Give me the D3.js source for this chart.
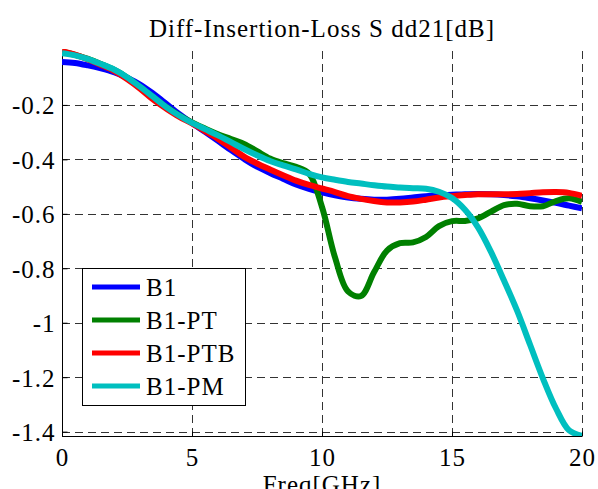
<!DOCTYPE html>
<html>
<head>
<meta charset="utf-8">
<script src="https://cdn.jsdelivr.net/npm/d3@7"></script>
<style>
  html, body { margin: 0; padding: 0; background: #fff; }
  svg { display: block; }
</style>
</head>
<body>
<svg id="chart" width="598" height="489" font-family="Liberation Serif"></svg>
<script>
const title = "Diff-Insertion-Loss S dd21[dB]";
const xLabel = "Freq[GHz]";
const seriesNames = ["B1", "B1-PT", "B1-PTB", "B1-PM"];
const seriesColors = ["#0000ff", "#008000", "#ff0000", "#00bfbf"];
const xTicks = [0, 5, 10, 15, 20];
const xTickLabels = ["0", "5", "10", "15", "20"];
const yTicks = [-0.2, -0.4, -0.6, -0.8, -1.0, -1.2, -1.4];
const yTickLabels = ["-0.2", "-0.4", "-0.6", "-0.8", "-1", "-1.2", "-1.4"];

const freq = [0,0.5,1,1.5,2,2.5,3,3.5,4,4.5,5,5.5,6,6.5,7,7.5,8,8.5,9,9.5,10,
  10.5,11,11.5,12,12.5,13,13.5,14,14.5,15,15.5,16,16.5,17,17.5,18,18.5,19,19.5,20];

const b1 = [-0.042,-0.046,-0.055,-0.066,-0.080,-0.100,-0.125,-0.158,-0.195,-0.233,-0.267,
  -0.299,-0.332,-0.366,-0.398,-0.427,-0.450,-0.471,-0.492,-0.508,-0.521,
  -0.532,-0.540,-0.545,-0.548,-0.548,-0.545,-0.540,-0.535,-0.532,-0.530,
  -0.528,-0.527,-0.528,-0.531,-0.536,-0.543,-0.551,-0.560,-0.570,-0.580];

const b1pt = [-0.005,-0.016,-0.031,-0.050,-0.071,-0.099,-0.134,-0.171,-0.207,-0.238,-0.264,
  -0.287,-0.308,-0.325,-0.343,-0.370,-0.397,-0.414,-0.427,-0.452,-0.575,
  -0.760,-0.885,-0.902,-0.815,-0.735,-0.708,-0.705,-0.685,-0.645,-0.627,
  -0.626,-0.617,-0.592,-0.568,-0.563,-0.572,-0.572,-0.553,-0.543,-0.556];

const b1ptb = [-0.003,-0.015,-0.033,-0.053,-0.075,-0.105,-0.140,-0.180,-0.213,-0.243,-0.268,
  -0.296,-0.325,-0.357,-0.390,-0.415,-0.437,-0.458,-0.478,-0.494,-0.507,
  -0.520,-0.535,-0.545,-0.553,-0.558,-0.558,-0.555,-0.548,-0.540,-0.535,
  -0.531,-0.528,-0.528,-0.528,-0.527,-0.524,-0.521,-0.520,-0.523,-0.534];

const b1pm = [-0.010,-0.018,-0.032,-0.050,-0.070,-0.098,-0.133,-0.170,-0.207,-0.239,-0.266,
  -0.289,-0.312,-0.337,-0.362,-0.385,-0.406,-0.422,-0.437,-0.453,-0.466,
  -0.475,-0.483,-0.489,-0.495,-0.500,-0.503,-0.506,-0.508,-0.519,-0.542,
  -0.585,-0.650,-0.740,-0.845,-0.955,-1.080,-1.205,-1.315,-1.395,-1.415];

const seriesValues = [b1, b1pt, b1ptb, b1pm];

const FONT = "'Liberation Serif', 'Times New Roman', serif";
const svg = d3.select("#chart");
const pLeft = 62, pRight = 582, pTop = 51, pBottom = 436;
const x = d3.scaleLinear().domain([0, 20]).range([pLeft, pRight]);
const y = d3.scaleLinear().domain([-1.416, -0.002]).range([pBottom, pTop]);

// grid
const grid = svg.append("g").attr("stroke", "#333").attr("stroke-width", 1)
  .attr("stroke-dasharray", "8,5").attr("shape-rendering", "crispEdges");
grid.selectAll("line.gx").data(xTicks.filter(d => d > 0)).join("line").attr("class", "gx")
  .attr("x1", d => Math.round(x(d)) + 0.5).attr("x2", d => Math.round(x(d)) + 0.5)
  .attr("y1", pTop).attr("y2", pBottom);
grid.selectAll("line.gy").data(yTicks).join("line").attr("class", "gy")
  .attr("y1", d => Math.round(y(d)) + 0.5).attr("y2", d => Math.round(y(d)) + 0.5)
  .attr("x1", pLeft).attr("x2", pRight);

// axes
const xAxis = d3.axisBottom(x).tickValues(xTicks)
  .tickFormat((d, i) => xTickLabels[i]).tickSizeInner(-5).tickSizeOuter(0);
const gx = svg.append("g").attr("transform", `translate(0,${pBottom + 0.5})`).call(xAxis)
  .attr("font-family", "Liberation Serif").attr("font-size", 25);
gx.select(".domain").attr("stroke", "#000").attr("d", `M${pLeft},0H${pRight}`);
gx.selectAll(".tick line").attr("stroke", "#000");
gx.selectAll(".tick text").attr("dy", null).attr("y", 29)
  .style("font-family", FONT).style("font-size", "25px").style("letter-spacing", "1px").attr("fill", "#000");

const yAxis = d3.axisLeft(y).tickValues(yTicks)
  .tickFormat((d, i) => yTickLabels[i]).tickSizeInner(-5).tickSizeOuter(0);
const gy = svg.append("g").attr("transform", `translate(${pLeft + 0.5},0)`).call(yAxis)
  .attr("font-family", "Liberation Serif").attr("font-size", 25);
gy.select(".domain").attr("stroke", "#000").attr("d", `M0,${pTop}V${pBottom}`);
gy.selectAll(".tick line").attr("stroke", "#000");
gy.selectAll(".tick text").attr("dy", null).attr("y", 9).attr("x", -7)
  .style("font-family", FONT).style("font-size", "25px").style("letter-spacing", "1px").attr("fill", "#000");

// data
svg.append("clipPath").attr("id", "clip").append("rect")
  .attr("x", pLeft).attr("y", pTop - 2).attr("width", pRight - pLeft).attr("height", pBottom - pTop + 2);
const line = d3.line().x(d => x(d[0])).y(d => y(d[1])).curve(d3.curveCatmullRom.alpha(0.5));
const gl = svg.append("g").attr("clip-path", "url(#clip)");
seriesValues.forEach((vals, i) => {
  gl.append("path").datum(freq.map((f, j) => [f, vals[j]]))
    .attr("fill", "none").attr("stroke", seriesColors[i]).attr("stroke-width", 6)
    .attr("stroke-linejoin", "round").attr("d", line);
});

// title and x label
svg.append("text").attr("x", (pLeft + pRight) / 2).attr("y", 37).attr("text-anchor", "middle")
  .style("font-family", FONT).style("font-size", "25px").style("letter-spacing", "1px").text(title);
svg.append("text").attr("x", (pLeft + pRight) / 2).attr("y", 493).attr("text-anchor", "middle")
  .style("font-family", FONT).style("font-size", "25px").style("letter-spacing", "1px").text(xLabel);

// legend
const lg = svg.append("g");
lg.append("rect").attr("x", 82.5).attr("y", 268.5).attr("width", 163).attr("height", 137)
  .attr("fill", "#fff").attr("stroke", "#000").attr("stroke-width", 1);
seriesNames.forEach((name, i) => {
  const cy = 287 + i * 33;
  lg.append("line").attr("x1", 92).attr("x2", 140).attr("y1", cy).attr("y2", cy)
    .attr("stroke", seriesColors[i]).attr("stroke-width", 5);
  lg.append("text").attr("x", 146).attr("y", cy + 9)
    .style("font-family", FONT).style("font-size", "25px").style("letter-spacing", "1px").text(name);
});
</script>
</body>
</html>
